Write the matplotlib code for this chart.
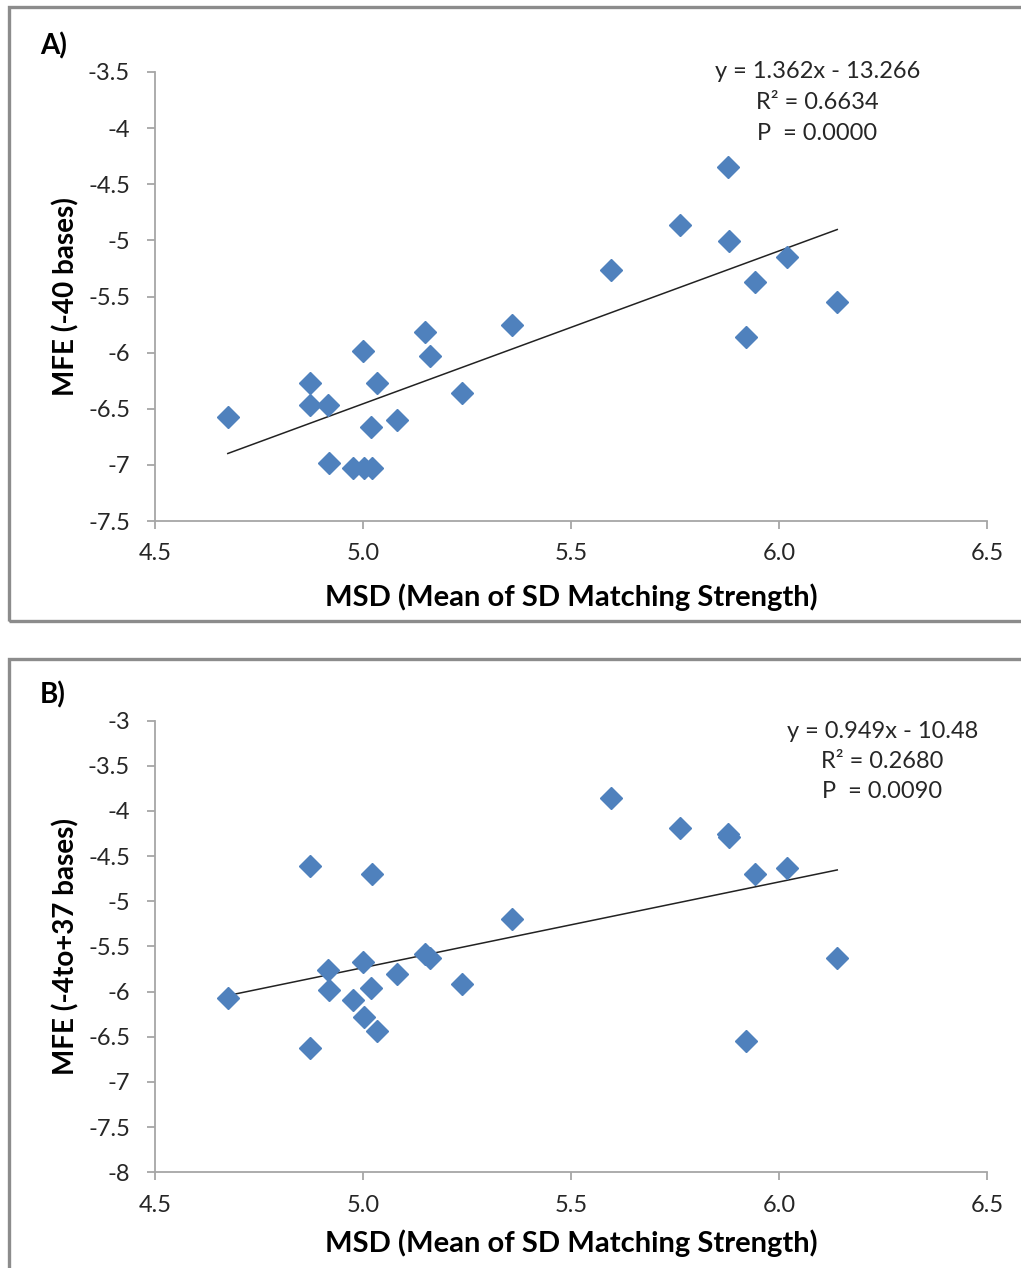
import matplotlib
matplotlib.use("Agg")
from matplotlib import pyplot as plt
from matplotlib.patches import Rectangle
from matplotlib.ticker import FuncFormatter
import numpy as np

plt.rcParams['font.family'] = ['Lato', 'DejaVu Sans']

# mean of SD matching strength, shared by both panels
msd = [4.675, 4.872, 4.872, 4.917, 4.918, 4.976, 5.000, 5.002, 5.019, 5.022, 5.034, 5.082,
       5.149, 5.162, 5.238, 5.358, 5.597, 5.761, 5.877, 5.880, 5.921, 5.943, 6.020, 6.140]
# MFE over -40 bases
mfe_40 = [-6.573, -6.273, -6.467, -6.467, -6.980, -7.031, -5.983, -7.031, -6.660, -7.031, -6.273, -6.600,
          -5.819, -6.027, -6.363, -5.754, -5.264, -4.863, -4.349, -5.003, -5.864, -5.374, -5.145, -5.552]
# MFE over -4 to +37 bases
mfe_4to37 = [-6.072, -4.609, -6.622, -5.757, -5.987, -6.098, -5.673, -6.283, -5.957, -4.701, -6.438, -5.809,
             -5.580, -5.624, -5.913, -5.192, -3.855, -4.187, -4.255, -4.285, -6.552, -4.693, -4.631, -5.629]

# trend lines: slope, intercept
fit_a = (1.362, -13.266)
fit_b = (0.949, -10.48)
stats_a = ["y = 1.362x - 13.266", "R² = 0.6634", "P  = 0.0000"]
stats_b = ["y = 0.949x - 10.48", "R² = 0.2680", "P  = 0.0090"]

x_ticks = [4.5, 5.0, 5.5, 6.0, 6.5]
y_ticks_a = [-3.5, -4, -4.5, -5, -5.5, -6, -6.5, -7, -7.5]
y_ticks_b = [-3, -3.5, -4, -4.5, -5, -5.5, -6, -6.5, -7, -7.5, -8]

W, H = 1021, 1268
fig = plt.figure(figsize=(W / 100, H / 100), dpi=100)
fig.patch.set_facecolor("white")

blue = "#4f81bd"
axis_grey = "#a6a6a6"
frame_grey = "#8c8c8c"


def px_axes(left, top, right, bottom):
    return fig.add_axes([left / W, 1 - bottom / H, (right - left) / W, (bottom - top) / H])


def draw_panel(ax, y, fit, stats, yticks, ylabel, stats_x, stats_y):
    ax.plot(msd, y, linestyle="none", marker="D", markersize=11.5,
            color=blue, markeredgecolor=blue, zorder=3)
    xs = np.array([min(msd), max(msd)])
    ax.plot(xs, fit[0] * xs + fit[1], color="#222222", linewidth=1.1, zorder=2)

    ax.set_xlim(4.5, 6.5)
    ax.set_ylim(min(yticks), max(yticks))
    ax.set_xticks(x_ticks)
    ax.set_yticks(yticks)
    ax.xaxis.set_major_formatter(FuncFormatter(lambda v, p: "%.1f" % v))
    ax.yaxis.set_major_formatter(FuncFormatter(lambda v, p: "%g" % v))

    for s in ["top", "right"]:
        ax.spines[s].set_visible(False)
    for s in ["left", "bottom"]:
        ax.spines[s].set_color(axis_grey)
        ax.spines[s].set_linewidth(1.3)
    ax.tick_params(axis="both", direction="out", length=6, width=1.3, color=axis_grey,
                   labelsize=17, labelcolor="#262626")
    ax.tick_params(axis="y", pad=12)
    ax.tick_params(axis="x", pad=10)

    ax.set_ylabel(ylabel, fontsize=20, fontweight="bold", color="black")
    ax.yaxis.set_label_coords(-0.091, 0.5)
    ax.set_xlabel("MSD (Mean of SD Matching Strength)", fontsize=21, fontweight="bold", color="black")
    ax.xaxis.label.set_va("center")

    for line, ty in zip(stats, stats_y):
        ax.text(stats_x, ty, line, transform=ax.transAxes, ha="center", va="center",
                fontsize=17, color="#262626")


# panel frames
fig.patches.append(Rectangle((9 / W, 1 - 621 / H), 1.05, (621 - 7) / H, transform=fig.transFigure,
                             fill=False, edgecolor=frame_grey, linewidth=2.4, zorder=0))
fig.patches.append(Rectangle((9 / W, -0.05), 1.05, 0.05 + 1 - 659 / H, transform=fig.transFigure,
                             fill=False, edgecolor=frame_grey, linewidth=2.4, zorder=0))

ax_a = px_axes(155, 72, 987, 521)
draw_panel(ax_a, mfe_40, fit_a, stats_a, y_ticks_a, "MFE (-40 bases)", 0.796, [1.0, 0.933, 0.864])
ax_a.xaxis.set_label_coords(0.5, -(597 - 521) / 449)

ax_b = px_axes(155, 720.6, 987, 1172.3)
draw_panel(ax_b, mfe_4to37, fit_b, stats_b, y_ticks_b, "MFE (-4to+37 bases)", 0.874, [0.975, 0.909, 0.842])
ax_b.xaxis.set_label_coords(0.5, -(1243 - 1172.3) / 451.7)

fig.text(40 / W, 1 - 46 / H, "A)", fontsize=20, fontweight="bold", ha="left", va="center")
fig.text(40 / W, 1 - 695 / H, "B)", fontsize=20, fontweight="bold", ha="left", va="center")

fig.savefig("out.png", dpi=100, facecolor="white")
